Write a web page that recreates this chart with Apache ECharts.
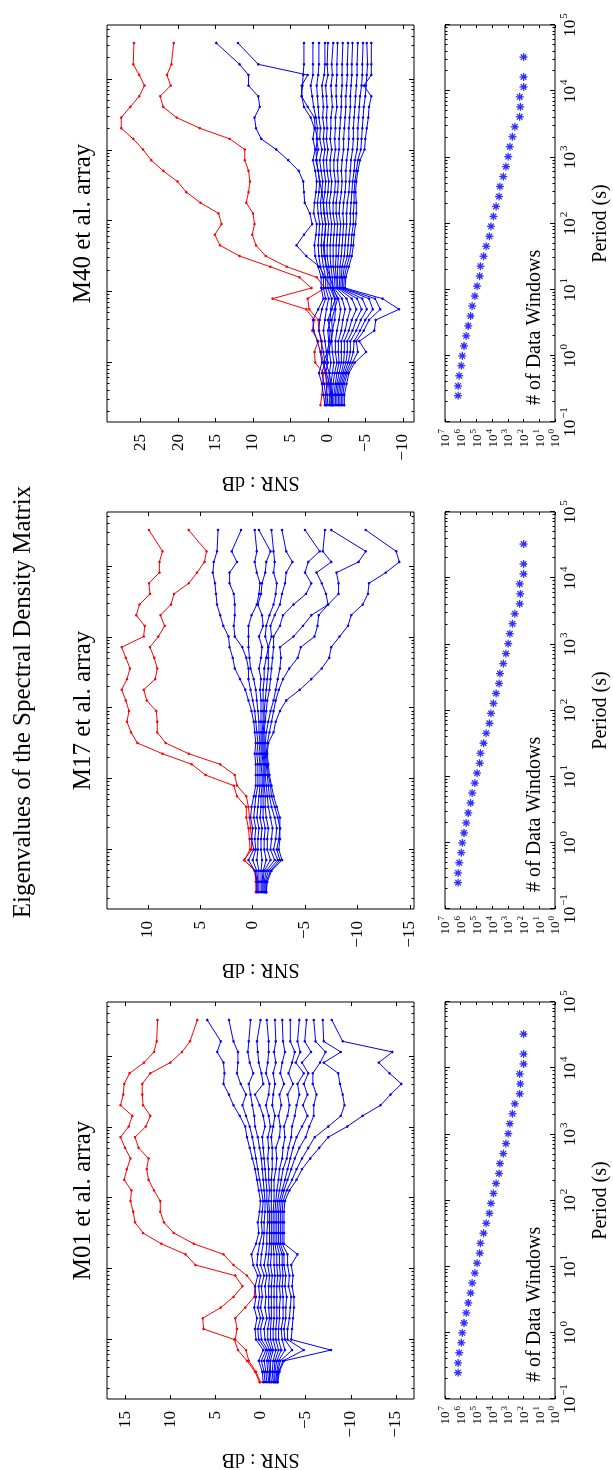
<!DOCTYPE html>
<html><head><meta charset="utf-8">
<script src="https://cdn.jsdelivr.net/npm/echarts@6/dist/echarts.min.js"></script>
<style>
html,body{margin:0;padding:0;width:613px;height:1470px;overflow:hidden;background:#fff}
#chart{position:absolute;left:0;top:0;width:1470px;height:613px;transform-origin:0 0;transform:translate(0,1470px) rotate(-90deg);background:#fff}
</style></head><body><div id="chart"></div>
<script>
// ---------------- DATA ----------------
const periods = [0.25, 0.35, 0.5, 0.71, 1, 1.41, 2, 2.83, 4, 5.66, 8, 11.3, 16, 22.6, 32, 45.3, 64, 90.5, 128, 181, 256, 362, 512, 724, 1024, 1448, 2048, 2896, 4096, 5793, 8192, 11585, 16384, 32768];
const windowCounts = [1480000, 1480000, 1260000, 912000, 794000, 617000, 447000, 331000, 237000, 186000, 126000, 91000, 62000, 56000, 35000, 24000, 15000, 12000, 8300, 5600, 3600, 3200, 1950, 1330, 950, 750, 510, 360, 178, 162, 178, 100, 100, 100];
const snrTicksM01 = [-15, -10, -5, 0, 5, 10, 15];
const snrTicksM17 = [-15, -10, -5, 0, 5, 10];
const snrTicksM40 = [-10, -5, 0, 5, 10, 15, 20, 25];
const periodTicks = [0.1, 1, 10, 100, 1000, 10000, 100000];
const countTicks = [1, 10, 100, 1000, 10000, 100000, 1000000, 10000000];
const titles = ['M01 et al. array', 'M17 et al. array', 'M40 et al. array'];

const m01Red = [
 [0.1, 0.6, 1.5, 2.5, 2.9, 6.3, 6.4, 4.4, 3.0, 2.0, 2.8, 7.2, 8.3, 11.0, 13.0, 13.9, 14.1, 14.4, 14.3, 15.1, 14.8, 14.4, 15.0, 15.5, 14.6, 14.2, 15.5, 15.2, 15.1, 14.5, 12.9, 11.8, 11.5, 11.4],
 [0.0, 0.5, 1.3, 1.6, 2.8, 2.6, 2.8, 1.7, 0.7, 0.6, 1.5, 3.0, 4.1, 7.4, 9.6, 10.7, 11.1, 11.1, 11.8, 12.4, 12.6, 12.4, 13.5, 13.9, 12.7, 12.2, 13.0, 13.1, 13.1, 12.2, 10.0, 8.7, 7.8, 7.0]
];
const m01Blue = [
 [-0.3, -0.2, 0.2, -0.3, 0.5, 0.6, 0.4, 0.7, 0.5, 0.6, 0.3, 0.8, 1.0, 0.5, 0.2, 0.3, 0.1, 0.0, 0.2, 0.4, 0.6, 0.9, 1.2, 1.5, 1.7, 2.3, 3.0, 3.5, 4.1, 4.0, 4.1, 4.8, 4.4, 5.9],
 [-0.5, -0.4, -0.1, -0.6, 0.2, 0.3, 0.0, 0.3, 0.1, 0.2, 0.0, 0.4, 0.3, 0.1, -0.2, -0.1, -0.2, -0.3, -0.1, 0.1, 0.3, 0.5, 0.7, 0.9, 1.2, 1.6, 2.0, 1.6, 2.2, 2.6, 2.5, 2.5, 3.0, 3.5],
 [-0.7, -0.6, -0.4, -0.8, -0.1, 0.0, -0.3, 0.0, -0.2, -0.1, -0.4, 0.0, -0.1, -0.3, -0.4, -0.4, -0.5, -0.5, -0.4, -0.3, -0.2, -0.1, 0.1, 0.3, 0.6, 0.7, 0.9, 1.1, 1.3, 0.8, 1.2, 1.4, 1.3, 1.1],
 [-0.9, -0.8, -0.7, -1.0, -0.5, -0.4, -0.7, -0.5, -0.6, -0.5, -0.7, -0.4, -0.6, -0.7, -0.7, -0.8, -0.8, -0.7, -0.7, -0.6, -0.5, -0.4, -0.3, -0.2, -0.5, -0.3, 0.1, 0.6, -0.3, -0.1, 0.2, 0.3, 0.4, 0.0],
 [-1.0, -1.0, -0.9, -1.2, -0.8, -0.8, -1.0, -0.9, -0.9, -0.9, -1.0, -0.8, -0.9, -1.0, -1.0, -1.0, -1.0, -0.9, -1.0, -0.9, -0.9, -0.8, -0.9, -0.8, -1.1, -0.9, -0.6, -0.9, -1.0, -0.6, -0.8, -0.9, -0.9, -0.7],
 [-1.2, -1.1, -1.1, -1.4, -1.1, -1.1, -1.2, -1.2, -1.2, -1.2, -1.3, -1.1, -1.2, -1.2, -1.2, -1.2, -1.2, -1.2, -1.2, -1.2, -1.3, -1.3, -1.3, -1.2, -1.4, -1.6, -1.3, -1.4, -1.6, -1.4, -1.7, -1.5, -1.7, -1.6],
 [-1.4, -1.3, -1.4, -1.7, -1.4, -1.4, -1.5, -1.5, -1.5, -1.5, -1.6, -1.5, -1.5, -1.4, -1.4, -1.4, -1.4, -1.5, -1.5, -1.5, -1.7, -1.8, -1.7, -2.1, -2.2, -2.0, -2.3, -2.1, -2.6, -2.2, -2.4, -2.7, -2.5, -2.4],
 [-1.5, -1.5, -1.6, -2.0, -1.7, -1.7, -1.8, -1.8, -1.8, -1.8, -1.9, -1.8, -1.8, -1.6, -1.6, -1.6, -1.6, -1.7, -1.8, -2.0, -2.1, -2.4, -2.5, -2.7, -2.6, -3.0, -3.2, -3.0, -3.6, -3.1, -3.5, -3.8, -3.3, -3.3],
 [-1.6, -1.6, -1.8, -2.3, -2.0, -2.0, -2.1, -2.1, -2.2, -2.1, -2.2, -2.1, -2.1, -1.8, -1.8, -1.8, -1.8, -1.9, -2.1, -2.3, -2.5, -2.9, -3.1, -3.4, -3.5, -3.8, -4.0, -4.3, -4.1, -4.8, -3.9, -4.4, -4.1, -4.3],
 [-1.7, -1.8, -2.0, -2.7, -2.4, -2.3, -2.5, -2.5, -2.5, -2.4, -2.5, -2.4, -2.4, -2.0, -2.0, -2.0, -2.0, -2.1, -2.4, -2.7, -3.0, -3.3, -3.6, -4.0, -4.6, -5.2, -4.7, -5.2, -4.8, -5.3, -4.6, -5.6, -4.9, -5.1],
 [-1.8, -1.9, -2.2, -3.5, -2.7, -2.6, -2.8, -2.8, -2.9, -2.7, -2.8, -2.6, -2.6, -2.2, -2.2, -2.2, -2.2, -2.3, -2.6, -3.0, -3.4, -3.8, -4.3, -5.0, -5.4, -5.9, -5.9, -6.2, -5.8, -5.8, -6.6, -7.2, -6.1, -5.9],
 [-1.9, -2.0, -2.5, -4.8, -3.0, -3.0, -3.2, -3.3, -3.4, -3.1, -3.2, -3.0, -3.0, -2.4, -2.4, -2.4, -2.4, -2.5, -2.9, -3.5, -4.0, -4.6, -5.3, -6.0, -7.5, -8.9, -9.3, -9.1, -8.8, -8.6, -7.0, -8.9, -7.0, -6.9],
 [-1.9, -2.1, -2.6, -7.8, -3.4, -3.5, -3.6, -3.7, -3.7, -3.5, -3.6, -3.4, -4.1, -2.6, -2.6, -2.6, -2.6, -2.7, -3.2, -4.0, -4.6, -5.5, -6.5, -7.5, -9.6, -11.3, -13.3, -14.4, -15.6, -14.3, -13.1, -14.6, -9.1, -7.9]
];

const m17Red = [
 [-0.3, -0.3, -0.2, 0.8, 0.25, 0.3, 0.4, 0.6, 0.6, 1.5, 1.8, 4.5, 5.8, 8.6, 11.0, 11.6, 12.0, 11.8, 12.1, 12.5, 12.0, 11.7, 12.1, 12.5, 10.4, 10.3, 11.1, 10.8, 9.8, 9.9, 8.9, 8.9, 8.6, 9.9],
 [-0.4, -0.4, -0.3, 0.8, 0.1, 0.1, 0.2, 0.3, 0.4, 0.6, 1.5, 1.7, 3.1, 6.1, 8.3, 9.1, 9.1, 9.2, 10.1, 10.4, 9.3, 9.1, 9.4, 9.8, 9.0, 8.4, 8.8, 7.8, 7.5, 6.1, 5.3, 4.6, 4.4, 6.1]
];
const m17Blue = [
 [-0.4, -0.4, -0.2, 0.4, -0.1, 0.1, 0.0, 0.2, 0.1, -0.1, -0.3, -0.3, -0.3, -0.2, -0.3, -0.2, -0.1, 0.1, 0.4, 0.7, 1.2, 1.7, 1.9, 2.2, 2.3, 2.8, 3.1, 3.4, 3.5, 3.6, 3.8, 3.7, 3.4, 3.3],
 [-0.5, -0.5, -0.4, 0.0, -0.3, -0.2, -0.3, -0.1, -0.2, -0.3, -0.5, -0.5, -0.5, -0.4, -0.5, -0.4, -0.3, -0.2, 0.0, 0.2, 0.4, 0.4, 0.6, 1.0, 1.7, 1.8, 1.7, 1.7, 1.8, 2.2, 2.2, 1.5, 2.0, 1.1],
 [-0.6, -0.6, -0.6, -0.4, -0.5, -0.5, -0.6, -0.4, -0.5, -0.6, -0.7, -0.7, -0.7, -0.6, -0.7, -0.6, -0.6, -0.5, -0.4, -0.3, -0.1, 0.2, 0.3, 0.4, 0.4, 0.4, 0.1, -0.4, -0.6, -0.7, -0.4, -0.2, -0.4, -0.2],
 [-0.8, -0.8, -0.8, -0.9, -0.8, -0.8, -0.9, -0.7, -0.8, -0.8, -0.9, -0.9, -0.8, -0.8, -0.8, -0.8, -0.8, -0.8, -0.8, -0.7, -0.8, -0.6, -0.8, -0.9, -0.6, -1.0, -0.9, -0.5, -0.8, -0.9, -1.2, -1.3, -1.7, -0.6],
 [-0.9, -0.9, -1.0, -1.3, -1.1, -1.1, -1.2, -1.0, -1.0, -1.0, -1.0, -1.0, -1.0, -0.9, -0.9, -0.9, -1.0, -1.0, -1.0, -1.0, -1.1, -1.1, -1.3, -1.5, -1.2, -1.3, -1.6, -2.0, -2.2, -2.3, -2.0, -2.1, -2.0, -1.8],
 [-1.0, -1.0, -1.1, -1.7, -1.4, -1.4, -1.5, -1.3, -1.2, -1.2, -1.1, -1.1, -1.1, -1.0, -1.0, -1.0, -1.1, -1.1, -1.2, -1.3, -1.4, -1.5, -1.5, -1.5, -1.8, -1.7, -2.1, -2.6, -2.8, -3.1, -3.2, -3.8, -3.2, -2.8],
 [-1.1, -1.1, -1.3, -2.1, -1.7, -1.8, -1.9, -1.7, -1.5, -1.4, -1.3, -1.2, -1.2, -1.1, -1.1, -1.1, -1.2, -1.3, -1.4, -1.6, -1.7, -1.8, -1.9, -2.0, -2.0, -2.6, -2.9, -3.9, -5.1, -5.6, -5.0, -5.3, -6.4, -5.0],
 [-1.2, -1.2, -1.5, -2.4, -2.0, -2.2, -2.3, -2.1, -1.8, -1.6, -1.5, -1.4, -1.3, -1.2, -1.2, -1.3, -1.5, -1.7, -2.0, -2.2, -2.4, -2.6, -2.7, -2.6, -3.9, -4.8, -5.6, -7.2, -7.0, -6.6, -6.1, -7.5, -6.7, -6.9],
 [-1.3, -1.3, -1.7, -2.6, -2.3, -2.5, -2.6, -2.4, -2.1, -1.8, -1.7, -1.5, -1.4, -1.3, -1.4, -1.6, -1.8, -2.0, -2.2, -2.5, -2.9, -3.5, -4.3, -4.6, -5.9, -6.2, -6.3, -7.2, -8.2, -8.2, -8.0, -10.1, -10.8, -7.5],
 [-1.3, -1.4, -1.8, -2.8, -2.5, -2.6, -2.6, -2.6, -2.3, -2.0, -1.8, -1.6, -1.5, -1.4, -1.5, -2.0, -2.2, -2.6, -3.2, -4.5, -5.6, -6.6, -7.3, -7.5, -8.3, -9.1, -9.4, -10.5, -11.0, -11.1, -12.7, -14.0, -13.7, -10.8]
];

const m40Red = [
 [1.0, 0.8, 0.7, 0.6, 1.7, 1.8, 1.3, 2.1, 1.8, 2.9, 7.4, 2.2, 3.8, 7.7, 11.8, 14.4, 15.1, 14.2, 14.6, 17.0, 18.9, 20.1, 22.0, 23.6, 24.7, 26.0, 27.6, 27.6, 26.4, 25.2, 24.5, 25.2, 26.0, 25.9],
 [0.4, 0.3, 0.0, 0.4, 0.6, 0.9, 0.8, 1.2, 1.3, 2.5, 2.7, 0.4, 1.5, 5.5, 8.3, 9.6, 10.1, 9.8, 10.0, 10.9, 10.6, 10.4, 10.6, 11.1, 11.1, 13.1, 17.1, 20.2, 22.0, 22.4, 21.0, 21.5, 20.9, 20.6]
];
const m40Blue = [
 [-0.6, -0.4, -0.2, 0.2, 0.6, 0.1, -0.2, -0.3, 0.0, -0.5, -1.0, -0.5, 0.4, 1.1, 2.9, 4.2, 3.2, 2.1, 2.4, 3.1, 3.2, 3.3, 3.9, 5.3, 6.9, 8.9, 9.6, 9.8, 9.1, 9.3, 10.6, 10.6, 11.8, 14.9],
 [-0.5, -0.5, -0.4, -0.2, 0.3, -0.1, -0.4, -0.6, -0.5, -0.9, -1.3, -0.7, -0.3, 0.2, 0.5, 0.6, 0.4, 0.3, 0.5, 0.6, 0.8, 1.1, 1.3, 1.5, 1.6, 1.4, 1.7, 1.8, 2.7, 3.5, 3.5, 2.7, 9.3, 12.0],
 [0.4, 0.6, 0.8, 1.2, 0.8, 1.0, 1.4, 1.9, 2.0, 1.3, 0.6, 0.9, 0.9, 1.3, 1.7, 1.8, 1.6, 1.5, 1.9, 1.8, 1.6, 1.5, 1.7, 2.0, 1.7, 2.0, 1.8, 2.3, 3.2, 3.5, 3.4, 3.3, 3.2, 3.2],
 [0.2, 0.3, 0.5, 0.8, 0.4, 0.6, 0.9, 1.2, 1.1, 0.8, 0.3, 0.6, 0.6, 1.0, 1.2, 1.3, 1.2, 1.1, 1.3, 1.4, 1.2, 1.1, 1.3, 1.6, 1.3, 1.5, 1.4, 1.6, 1.9, 2.1, 2.3, 2.0, 2.0, 2.0],
 [0.0, 0.1, 0.2, 0.3, 0.0, 0.2, 0.4, 0.6, 0.4, 0.2, -0.1, 0.3, 0.3, 0.6, 0.8, 0.9, 0.8, 0.7, 0.9, 1.0, 0.8, 0.7, 0.9, 1.1, 0.8, 1.1, 1.0, 1.2, 1.3, 1.4, 1.5, 1.3, 1.2, 1.2],
 [-0.2, -0.2, -0.1, -0.2, -0.4, -0.2, -0.1, 0.0, -0.3, -0.4, -0.5, 0.0, 0.0, 0.2, 0.4, 0.5, 0.4, 0.3, 0.5, 0.6, 0.4, 0.3, 0.5, 0.6, 0.4, 0.6, 0.5, 0.7, 0.6, 0.7, 0.8, 0.5, 0.4, 0.4],
 [-0.4, -0.4, -0.4, -0.6, -0.8, -0.6, -0.5, -0.6, -0.9, -1.0, -0.9, -0.3, -0.3, -0.1, 0.1, 0.1, 0.0, -0.1, 0.1, 0.2, 0.0, -0.1, 0.1, 0.2, 0.0, 0.2, 0.1, 0.2, 0.1, 0.2, 0.3, 0.0, 0.1, 0.0],
 [-0.6, -0.6, -0.7, -0.9, -1.2, -1.0, -1.0, -1.2, -1.5, -1.7, -1.4, -0.6, -0.6, -0.4, -0.3, -0.3, -0.4, -0.5, -0.3, -0.2, -0.4, -0.5, -0.3, -0.3, -0.5, -0.3, -0.4, -0.4, -0.6, -0.5, -0.4, -0.6, -0.5, -0.7],
 [-0.8, -0.8, -1.0, -1.2, -1.5, -1.4, -1.4, -1.8, -2.0, -2.3, -1.9, -0.8, -0.9, -0.7, -0.7, -0.7, -0.8, -0.9, -0.7, -0.7, -0.9, -1.0, -0.8, -0.8, -1.0, -0.9, -1.0, -1.0, -1.2, -1.1, -1.1, -1.2, -1.2, -1.3],
 [-1.0, -1.0, -1.2, -1.5, -1.8, -1.8, -1.8, -2.3, -2.6, -3.0, -2.5, -1.1, -1.1, -1.0, -1.1, -1.1, -1.2, -1.3, -1.1, -1.1, -1.3, -1.4, -1.3, -1.3, -1.5, -1.5, -1.6, -1.7, -1.8, -1.8, -1.9, -1.9, -1.9, -2.0],
 [-1.2, -1.2, -1.4, -1.8, -2.1, -2.2, -2.2, -2.8, -3.2, -3.8, -3.2, -1.3, -1.3, -1.3, -1.4, -1.5, -1.6, -1.7, -1.5, -1.6, -1.8, -1.9, -1.8, -1.9, -2.1, -2.1, -2.2, -2.3, -2.4, -2.4, -2.5, -2.6, -2.6, -2.7],
 [-1.4, -1.4, -1.6, -2.0, -2.4, -2.6, -2.6, -3.3, -3.8, -4.5, -3.9, -1.5, -1.6, -1.6, -1.8, -1.9, -2.0, -2.1, -2.0, -2.1, -2.3, -2.4, -2.4, -2.5, -2.7, -2.8, -2.8, -2.9, -3.0, -3.0, -3.1, -3.2, -3.2, -3.3],
 [-1.6, -1.6, -1.8, -2.2, -2.7, -3.0, -3.0, -3.8, -4.4, -5.2, -4.6, -1.7, -1.8, -1.9, -2.2, -2.3, -2.4, -2.5, -2.5, -2.6, -2.8, -2.9, -3.0, -3.1, -3.3, -3.4, -3.4, -3.5, -3.6, -3.7, -3.8, -3.9, -3.9, -4.0],
 [-1.8, -1.8, -2.0, -2.4, -3.0, -3.4, -3.5, -4.3, -5.0, -6.0, -5.5, -1.9, -2.0, -2.2, -2.6, -2.7, -2.8, -3.0, -3.0, -3.1, -3.2, -3.3, -3.5, -3.6, -3.9, -4.0, -4.0, -4.1, -4.2, -4.3, -4.5, -4.6, -4.6, -4.7],
 [-2.0, -2.0, -2.2, -2.6, -3.3, -4.0, -3.8, -4.8, -5.5, -7.0, -6.3, -2.1, -2.2, -2.5, -2.9, -3.1, -3.2, -3.4, -3.4, -3.5, -3.5, -3.6, -3.8, -4.0, -4.4, -4.5, -4.6, -4.7, -4.8, -5.0, -5.1, -5.2, -5.3, -5.2],
 [-2.2, -2.2, -2.5, -2.8, -3.6, -5.1, -4.2, -6.2, -6.4, -9.5, -7.3, -2.3, -2.4, -2.8, -3.2, -3.4, -3.5, -3.7, -3.8, -3.8, -3.7, -3.8, -4.0, -4.3, -4.9, -5.0, -5.2, -5.4, -5.5, -5.8, -4.8, -5.8, -5.8, -5.8]
];

// ---------------- CHART ----------------
const FONT = '"Liberation Serif","DejaVu Serif",serif';
const RED = '#ff0000', BLUE = '#0000ff';
const PMIN = 0.1445, PMAX = 58900;
const panels = [
  {left: 71, red: m01Red, blue: m01Blue, ymin: -17, ymax: 17, ticks: snrTicksM01},
  {left: 561, red: m17Red, blue: m17Blue, ymin: -15.4, ymax: 13.9, ticks: snrTicksM17},
  {left: 1048, red: m40Red, blue: m40Blue, ymin: -11.5, ymax: 29.5, ticks: snrTicksM40}
];
const W = 397;

function minorTicks(lo, hi) {
  const out = [];
  for (let e = -2; e <= 5; e++) for (let k = 2; k <= 9; k++) {
    const v = +(k * Math.pow(10, e)).toPrecision(3);
    if (v > lo && v < hi) out.push(v);
  }
  return out;
}
const minorMain = minorTicks(PMIN, PMAX);
const minorSmall = minorTicks(0.1, 100000);
const majorMain = periodTicks.filter(v => v > PMIN && v < PMAX);

const tickLine = {color: '#000', width: 1};
const noLine = {show: false, onZero: false};
const grids = [], xAxes = [], yAxes = [], series = [], graphics = [];
function addX(o) { xAxes.push(o); return xAxes.length - 1; }
function addY(o) { yAxes.push(o); return yAxes.length - 1; }
function supFmt(v) {
  const e = Math.round(Math.log10(v));
  return '{b|10}{s|' + (e < 0 ? '\u2212' + (-e) : e) + '}';
}
function periodAxis(g, pos, min, max, ticks, len, label) {
  return {
    gridIndex: g, type: 'log', logBase: 10, min: min, max: max, position: pos,
    axisLine: noLine, splitLine: {show: false}, minorTick: {show: false},
    axisTick: {show: true, inside: true, length: len, lineStyle: tickLine, customValues: ticks},
    axisLabel: label ? {
      show: true, customValues: ticks, margin: 4, formatter: supFmt,
      rich: {
        b: {fontFamily: FONT, fontSize: 17, color: '#000', verticalAlign: 'bottom'},
        s: {fontFamily: FONT, fontSize: 11, color: '#000', verticalAlign: 'bottom', padding: [0, 0, 9, 1]}
      }
    } : {show: false},
    name: label ? 'Period (s)' : '', nameLocation: 'middle', nameGap: 36,
    nameTextStyle: {fontFamily: FONT, fontSize: 20, color: '#000'}
  };
}

panels.forEach((p, i) => {
  const gMain = grids.length;
  grids.push({left: p.left, top: 107, width: W, height: 307, show: true, borderColor: '#000', borderWidth: 1, backgroundColor: 'transparent'});
  const gSmall = grids.length;
  grids.push({left: p.left, top: 445, width: W, height: 110, show: true, borderColor: '#000', borderWidth: 1, backgroundColor: 'transparent'});

  // main plot axes
  const xm = addX(periodAxis(gMain, 'bottom', PMIN, PMAX, majorMain, 5, false));
  addX(periodAxis(gMain, 'top', PMIN, PMAX, majorMain, 5, false));
  addX(periodAxis(gMain, 'bottom', PMIN, PMAX, minorMain, 2.5, false));
  addX(periodAxis(gMain, 'top', PMIN, PMAX, minorMain, 2.5, false));
  const snrFmt = v => (v < 0 ? '\u2212' + (-v) : String(v));
  const ym = addY({
    gridIndex: gMain, type: 'value', min: p.ymin, max: p.ymax, position: 'left',
    axisLine: noLine, splitLine: {show: false},
    axisTick: {show: true, inside: true, length: 4, lineStyle: tickLine, customValues: p.ticks},
    axisLabel: {show: true, customValues: p.ticks, formatter: snrFmt, margin: 12, fontFamily: FONT, fontSize: 17, color: '#000'},
    name: 'SNR : dB', nameLocation: 'middle', nameRotate: 90, nameGap: 50,
    nameTextStyle: {fontFamily: FONT, fontSize: 20, color: '#000'}
  });
  addY({
    gridIndex: gMain, type: 'value', min: p.ymin, max: p.ymax, position: 'right',
    axisLine: noLine, splitLine: {show: false},
    axisTick: {show: true, inside: true, length: 4, lineStyle: tickLine, customValues: p.ticks},
    axisLabel: {show: false}
  });

  // small plot axes
  const xs = addX(periodAxis(gSmall, 'bottom', 0.1, 100000, periodTicks, 5, true));
  addX(periodAxis(gSmall, 'top', 0.1, 100000, periodTicks, 5, false));
  addX(periodAxis(gSmall, 'bottom', 0.1, 100000, minorSmall, 2.5, false));
  addX(periodAxis(gSmall, 'top', 0.1, 100000, minorSmall, 2.5, false));
  const ys = addY({
    gridIndex: gSmall, type: 'log', logBase: 10, min: 1, max: 10000000, position: 'left',
    axisLine: noLine, splitLine: {show: false},
    axisTick: {show: true, inside: true, length: 3, lineStyle: tickLine, customValues: countTicks},
    axisLabel: {
      show: true, customValues: countTicks, formatter: supFmt, margin: 7,
      rich: {
        b: {fontFamily: FONT, fontSize: 13, color: '#000', verticalAlign: 'bottom'},
        s: {fontFamily: FONT, fontSize: 9, color: '#000', verticalAlign: 'bottom', padding: [0, 0, 6, 1]}
      }
    }
  });
  addY({
    gridIndex: gSmall, type: 'log', logBase: 10, min: 1, max: 10000000, position: 'right',
    axisLine: noLine, splitLine: {show: false},
    axisTick: {show: true, inside: true, length: 3, lineStyle: tickLine, customValues: countTicks},
    axisLabel: {show: false}
  });

  const mkLine = (arr, color) => ({
    type: 'line', xAxisIndex: xm, yAxisIndex: ym,
    data: periods.map((t, k) => [t, arr[k]]),
    symbol: 'circle', symbolSize: 2.5, showSymbol: true,
    lineStyle: {color: color, width: 1}, itemStyle: {color: color},
    silent: true, animation: false
  });
  p.red.forEach(a => series.push(mkLine(a, RED)));
  p.blue.forEach(a => series.push(mkLine(a, BLUE)));

  series.push({
    type: 'scatter', xAxisIndex: xs, yAxisIndex: ys,
    data: periods.map((t, k) => [t, windowCounts[k]]),
    symbol: 'path://M0,-10L0,10M-10,0L10,0M-7,-7L7,7M-7,7L7,-7',
    symbolSize: 8,
    itemStyle: {color: BLUE, borderColor: BLUE, borderWidth: 1.3},
    silent: true, animation: false
  });

  const cx = p.left + W / 2;
  graphics.push({type: 'text', x: cx, y: 83, silent: true,
    style: {text: titles[i], fill: '#000', font: '25px ' + FONT, align: 'center', verticalAlign: 'middle'}});
  graphics.push({type: 'text', x: p.left + 17, y: 535, silent: true,
    style: {text: '# of Data Windows', fill: '#000', font: '20px ' + FONT, align: 'left', verticalAlign: 'middle'}});
});

graphics.push({type: 'text', x: 768, y: 23, silent: true,
  style: {text: 'Eigenvalues of the Spectral Density Matrix', fill: '#000', font: '25px ' + FONT, align: 'center', verticalAlign: 'middle'}});

const chart = echarts.init(document.getElementById('chart'), null, {renderer: 'canvas'});
chart.setOption({
  animation: false,
  backgroundColor: '#fff',
  grid: grids, xAxis: xAxes, yAxis: yAxes, series: series, graphic: graphics
});
</script></body></html>
